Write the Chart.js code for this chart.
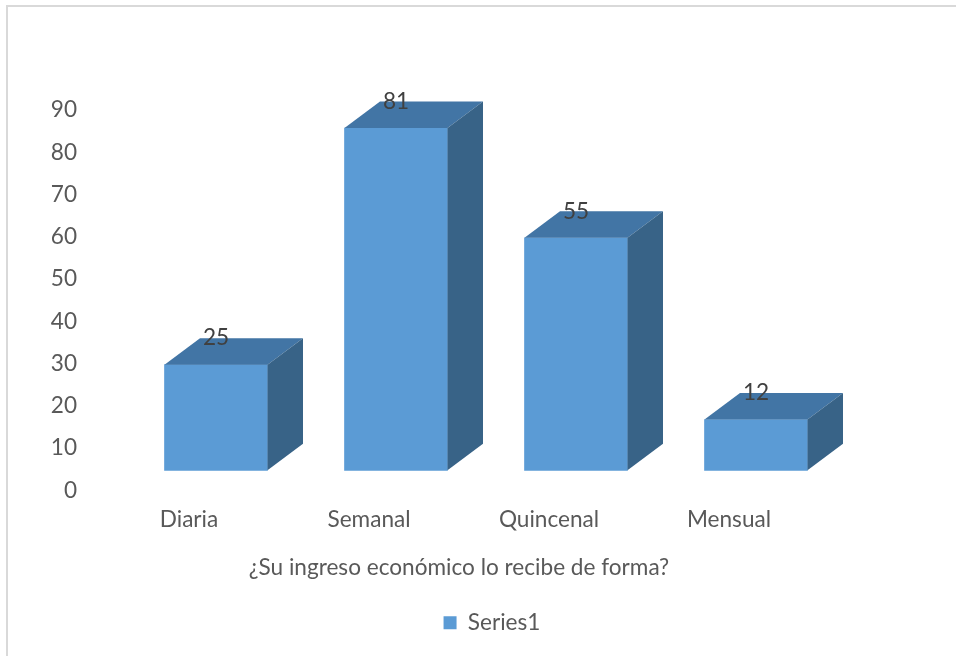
<!DOCTYPE html>
<html><head><meta charset="utf-8">
<script src="https://cdn.jsdelivr.net/npm/chart.js@4"></script>
<style>html,body{margin:0;padding:0;background:#fff}</style>
</head><body>
<canvas id="c" width="956" height="656"></canvas>
<script>
const categories = ['Diaria', 'Semanal', 'Quincenal', 'Mensual'];
const values = [25, 81, 55, 12];
const seriesName = 'Series1';
const yTicks = [0, 10, 20, 30, 40, 50, 60, 70, 80, 90];
const axisTitle = '¿Su ingreso económico lo recibe de forma?';

const FONT = "Lato, 'Open Sans', sans-serif";
const FS = 22.6;
const FRONT = '#5B9BD5', TOP = '#4275A5', SIDE = '#386387';
const DX = 35.5, DY = -26.5, SHIFT = 27;

const frame = {
  id: 'frame',
  beforeDraw(chart) {
    const ctx = chart.ctx;
    ctx.save();
    ctx.fillStyle = '#d9d9d9';
    ctx.fillRect(6, 5, 2, 651);
    ctx.fillRect(6, 5, 950, 2);
    ctx.restore();
  }
};

const bars3d = {
  id: 'bars3d',
  beforeDatasetsDraw(chart) {
    chart.ctx.save();
    chart.ctx.translate(SHIFT, 0);
  },
  afterDatasetsDraw(chart) {
    const ctx = chart.ctx;
    const meta = chart.getDatasetMeta(0);
    meta.data.forEach(el => {
      const {x, y, base, width} = el.getProps(['x', 'y', 'base', 'width'], true);
      const l = x - width / 2, r = x + width / 2;
      ctx.fillStyle = TOP;
      ctx.beginPath();
      ctx.moveTo(l, y); ctx.lineTo(r, y); ctx.lineTo(r + DX, y + DY); ctx.lineTo(l + DX, y + DY);
      ctx.closePath(); ctx.fill();
      ctx.fillStyle = SIDE;
      ctx.beginPath();
      ctx.moveTo(r, y); ctx.lineTo(r + DX, y + DY); ctx.lineTo(r + DX, base + DY); ctx.lineTo(r, base);
      ctx.closePath(); ctx.fill();
    });
    ctx.fillStyle = '#404040';
    ctx.font = FS + 'px ' + FONT;
    ctx.textAlign = 'center';
    ctx.textBaseline = 'middle';
    meta.data.forEach((el, i) => {
      const {x, y} = el.getProps(['x', 'y'], true);
      ctx.fillText(String(values[i]), x, y + DY);
    });
    ctx.restore();
  }
};

new Chart(document.getElementById('c'), {
  type: 'bar',
  data: {
    labels: categories,
    datasets: [{
      label: seriesName,
      data: values,
      yAxisID: 'yb',
      backgroundColor: FRONT,
      borderWidth: 0,
      barThickness: 103,
      clip: false
    }]
  },
  options: {
    responsive: false,
    animation: false,
    events: [],
    layout: { padding: { top: 110, left: 30, right: 2, bottom: 12 } },
    plugins: {
      tooltip: { enabled: false },
      legend: {
        position: 'bottom',
        labels: {
          boxWidth: 13, boxHeight: 13, padding: 14,
          color: '#595959',
          font: { family: FONT, size: FS }
        }
      }
    },
    scales: {
      x: {
        grid: { display: false, drawTicks: false }, border: { display: false },
        ticks: { color: '#595959', font: { family: FONT, size: FS }, padding: 16, maxRotation: 0 },
        title: { display: true, text: axisTitle, color: '#595959', font: { family: FONT, size: FS }, padding: { top: 0, bottom: 16 } },
        afterFit: s => { s.height = 107; }
      },
      y: {
        position: 'left', min: 0, max: 90,
        grid: { display: false, drawTicks: false }, border: { display: false },
        ticks: { color: '#595959', font: { family: FONT, size: FS }, padding: 22, stepSize: 10 },
        afterBuildTicks: s => { s.ticks = yTicks.map(v => ({ value: v })); },
        afterFit: s => { s.width = 69; }
      },
      yb: {
        position: 'right', min: -4.75, max: 85.25,
        grid: { display: false }, border: { display: false },
        ticks: { display: false },
        afterFit: s => { s.width = 135; }
      }
    }
  },
  plugins: [frame, bars3d]
});
</script>
</body></html>
